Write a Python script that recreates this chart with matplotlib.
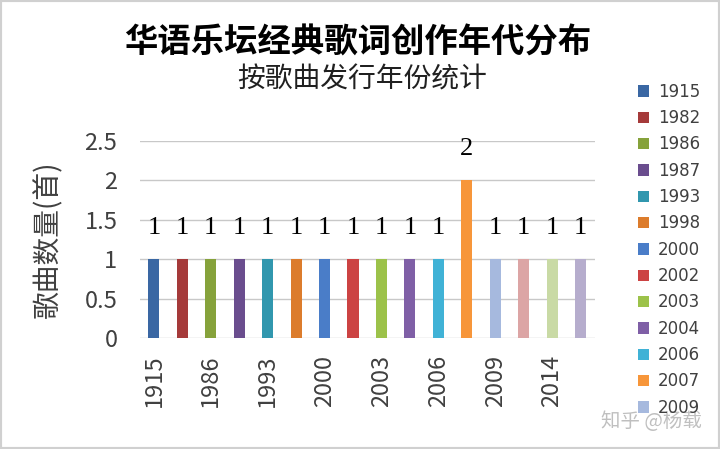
import matplotlib.pyplot as plt
from matplotlib.patches import Rectangle

plt.rcParams['font.family'] = ['Noto Sans CJK SC', 'DejaVu Sans']

years = ['1915', '1982', '1986', '1987', '1993', '1998', '2000', '2002',
         '2003', '2004', '2006', '2007', '2009', '2011', '2014', '2015']
counts = [1, 1, 1, 1, 1, 1, 1, 1, 1, 1, 1, 2, 1, 1, 1, 1]
colors = ['#3A67A3', '#A53A3A', '#86A23B', '#6A4D8E', '#3197AE', '#DC7C2C',
          '#4A7DC8', '#CC4343', '#9CC24A', '#7F5FA6', '#40B2D6', '#F7963A',
          '#A6B9DE', '#DCA5A5', '#C9DAA5', '#B6ADCD']
shown_ticks = ['1915', '1986', '1993', '2000', '2003', '2006', '2009', '2014']
# the reference legend is cut off by the image edge after this many entries
legend_visible = 13

fig = plt.figure(figsize=(7.2, 4.49), dpi=100)
ax = fig.add_axes([0.194, 0.247, 0.632, 0.439])

x = list(range(len(years)))
bars = ax.bar(x, counts, width=0.39, color=colors, zorder=3)

for xi, c in zip(x, counts):
    ax.annotate(str(c), (xi, c), xytext=(0, 18), textcoords='offset points',
                ha='center', va='baseline', fontsize=19,
                family='Liberation Serif', color='#000000', zorder=4)

ax.set_xlim(-0.5, len(years) - 0.5)
ax.set_ylim(0, 2.5)
ax.set_yticks([0, 0.5, 1, 1.5, 2, 2.5])
ax.set_yticklabels(['0', '0.5', '1', '1.5', '2', '2.5'], fontsize=17,
                   color='#404040', fontweight='light')
ax.set_xticks([years.index(t) for t in shown_ticks])
ax.set_xticklabels(shown_ticks, rotation=90, fontsize=17, color='#404040',
                   fontweight='light')
ax.tick_params(axis='y', length=0, pad=16)
ax.tick_params(axis='x', length=0, pad=12)
ax.grid(axis='y', color='#C8C8C8', lw=1, zorder=0)
for s in ax.spines.values():
    s.set_visible(False)

ax.set_ylabel('歌曲数量(首)', fontsize=20, color='#404040', labelpad=15)

fig.text(0.497, 0.905, '华语乐坛经典歌词创作年代分布', ha='center', va='center',
         fontsize=24, fontweight='bold', color='#000000')
fig.text(0.503, 0.822, '按歌曲发行年份统计', ha='center', va='center',
         fontsize=20, style='italic', color='#202020')

fig.legend(bars[:legend_visible], years[:legend_visible], loc='upper left',
           bbox_to_anchor=(0.865, 0.849), frameon=False,
           prop={'family': 'DejaVu Sans', 'size': 12}, handlelength=0.65,
           handleheight=0.65, handletextpad=0.55, labelspacing=0.5,
           labelcolor='#404040')

fig.text(0.835, 0.05, '知乎 @杨载', fontsize=14, color='#B0B0B0', alpha=0.8)

fig.patches.append(Rectangle((0, 0), 1, 1, transform=fig.transFigure,
                             fill=False, edgecolor='#D0D0D0', lw=3))

fig.savefig('out.png', dpi=100)
